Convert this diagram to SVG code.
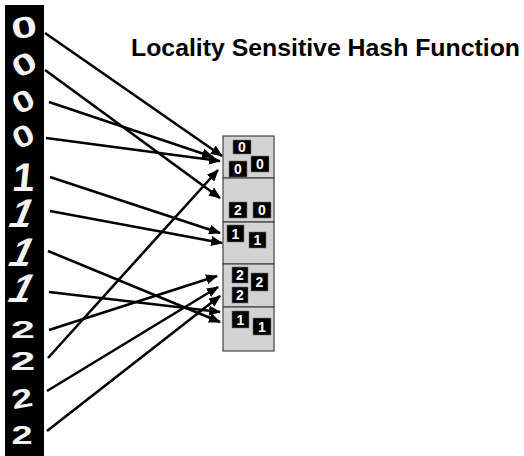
<svg xmlns="http://www.w3.org/2000/svg" width="524" height="456" viewBox="0 0 524 456">
<defs>
<marker id="ah" markerUnits="userSpaceOnUse" markerWidth="12" markerHeight="10" refX="11" refY="5" orient="auto">
<path d="M0,0 L12,5 L0,10 z" fill="#000"/>
</marker>
<style>
.title{font-family:"Liberation Sans",Arial,sans-serif;font-weight:bold;font-size:24.5px;fill:#000}
.hd{font-family:"Liberation Sans",Arial,sans-serif;font-weight:bold;fill:#f4f4f4;text-anchor:middle}
.z{font-size:33px}
.o{font-size:40px}
.t{font-size:33px}
.bucket{fill:#d3d3d3;stroke:#444;stroke-width:1.2}
.thumb{fill:#000;stroke:#777;stroke-width:0.6}
.tt{font-family:"Liberation Sans",Arial,sans-serif;font-size:14px;fill:#fff;text-anchor:middle;font-weight:bold}
.conn line{stroke:#000;stroke-width:2.6;marker-end:url(#ah)}
</style>
</defs>
<rect width="524" height="456" fill="#fff"/>
<text class="title" x="131" y="56" textLength="389" lengthAdjust="spacingAndGlyphs">Locality Sensitive Hash Function</text>

<g id="input-strip">
<rect x="5" y="5" width="39" height="451" fill="#000"/>
<g id="in-0a" transform="translate(24,27) rotate(-10) scale(1.4,0.9)"><text class="hd z" x="0" y="11.8">0</text></g>
<g id="in-0b" transform="translate(24,64) rotate(-30) scale(1.3,0.9)"><text class="hd z" x="0" y="11.8">0</text></g>
<g id="in-0c" transform="translate(23,101) rotate(-30) scale(1.15,0.9)"><text class="hd z" x="0" y="11.8">0</text></g>
<g id="in-0d" transform="translate(23,136) rotate(-25) scale(1.15,0.9)"><text class="hd z" x="0" y="11.8">0</text></g>
<g id="in-1a" transform="translate(24,177) skewX(-6)"><text class="hd o" x="0" y="14.3">1</text></g>
<g id="in-1b" transform="translate(23,213) skewX(-22)"><text class="hd o" x="0" y="14.3">1</text></g>
<g id="in-1c" transform="translate(23,252) skewX(-24)"><text class="hd o" x="0" y="14.3">1</text></g>
<g id="in-1d" transform="translate(23,288) skewX(-26)"><text class="hd o" x="0" y="14.3">1</text></g>
<g id="in-2a" transform="translate(23,329) scale(1.3,0.75)"><text class="hd t" x="0" y="11.8">2</text></g>
<g id="in-2b" transform="translate(23,361) scale(1.35,0.8)"><text class="hd t" x="0" y="11.8">2</text></g>
<g id="in-2c" transform="translate(22,398) rotate(-10) scale(1.15,0.8)"><text class="hd t" x="0" y="11.8">2</text></g>
<g id="in-2d" transform="translate(22,435) scale(1.15,0.8)"><text class="hd t" x="0" y="11.8">2</text></g>
</g>

<g id="hash-table">
<g id="bucket-1">
<rect class="bucket" x="223" y="136" width="51" height="42"/>
<rect class="thumb" x="233" y="140" width="18" height="14"/><text class="tt" x="242" y="152">0</text>
<rect class="thumb" x="229" y="161" width="18" height="16"/><text class="tt" x="238" y="174">0</text>
<rect class="thumb" x="251" y="156" width="18" height="16"/><text class="tt" x="260" y="169">0</text>
</g>
<g id="bucket-2">
<rect class="bucket" x="223" y="178" width="51" height="44"/>
<rect class="thumb" x="229" y="202" width="18" height="16"/><text class="tt" x="238" y="215">2</text>
<rect class="thumb" x="253" y="202" width="18" height="16"/><text class="tt" x="262" y="215">0</text>
</g>
<g id="bucket-3">
<rect class="bucket" x="223" y="222" width="51" height="42"/>
<rect class="thumb" x="227" y="225" width="17" height="17"/><text class="tt" x="235.5" y="239">1</text>
<rect class="thumb" x="249" y="232" width="17" height="16"/><text class="tt" x="257.5" y="245">1</text>
</g>
<g id="bucket-4">
<rect class="bucket" x="223" y="264" width="51" height="43"/>
<rect class="thumb" x="232" y="267" width="16" height="16"/><text class="tt" x="240" y="280">2</text>
<rect class="thumb" x="232" y="287" width="16" height="16"/><text class="tt" x="240" y="300">2</text>
<rect class="thumb" x="251" y="273" width="17" height="18"/><text class="tt" x="259.5" y="287">2</text>
</g>
<g id="bucket-5">
<rect class="bucket" x="223" y="307" width="51" height="44"/>
<rect class="thumb" x="232" y="311" width="17" height="17"/><text class="tt" x="240.5" y="325">1</text>
<rect class="thumb" x="253" y="318" width="18" height="17"/><text class="tt" x="262" y="332">1</text>
</g>
</g>

<g id="connectors" class="conn">
<line x1="45" y1="33" x2="222" y2="156"/>
<line x1="45" y1="70" x2="220" y2="198"/>
<line x1="49" y1="102" x2="213" y2="157"/>
<line x1="46" y1="138" x2="220" y2="161"/>
<line x1="50" y1="177" x2="220" y2="233"/>
<line x1="50" y1="211" x2="222" y2="243"/>
<line x1="48" y1="251" x2="220" y2="322"/>
<line x1="49" y1="292" x2="220" y2="312"/>
<line x1="49" y1="330" x2="217" y2="276"/>
<line x1="48" y1="358" x2="218" y2="170"/>
<line x1="47" y1="391" x2="218" y2="287"/>
<line x1="47" y1="431" x2="220" y2="296"/>
</g>
</svg>
